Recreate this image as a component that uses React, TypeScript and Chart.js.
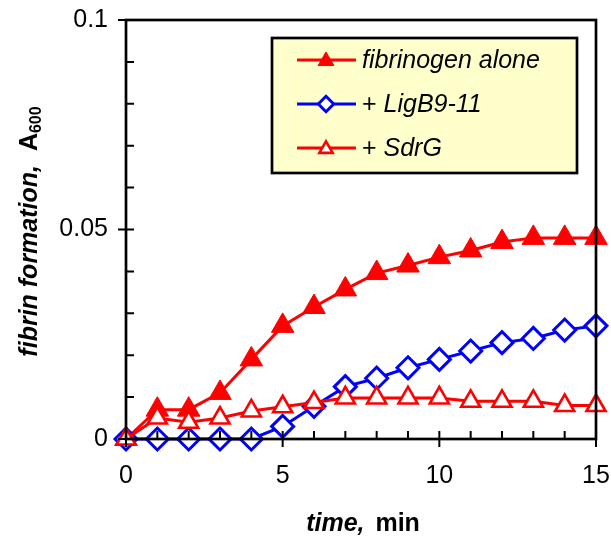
import React, { useEffect, useRef } from 'react';
import { Chart, registerables } from 'chart.js';
Chart.register(...registerables);

const times = [0, 1, 2, 3, 4, 5, 6, 7, 8, 9, 10, 11, 12, 13, 14, 15];
const fibrinogenAlone = [0, 0.007, 0.007, 0.011, 0.019, 0.027, 0.0315, 0.0357, 0.0396, 0.0414, 0.0434, 0.045, 0.047, 0.048, 0.048, 0.048];
const ligB911 = [0, 0, 0, 0, 0, 0.003, 0.0078, 0.0125, 0.0145, 0.017, 0.019, 0.021, 0.023, 0.024, 0.026, 0.027];
const sdrG = [0, 0.005, 0.004, 0.005, 0.0067, 0.0077, 0.0087, 0.0098, 0.0098, 0.0098, 0.0098, 0.009, 0.009, 0.009, 0.008, 0.008];
const seriesLabels = ['fibrinogen alone', '+ LigB9-11', '+ SdrG'];
const xMajorTicks = [0, 5, 10, 15];
const yMajorTicks = [0, 0.05, 0.1];
const yTickLabels = ['0', '0.05', '0.1'];
const yMinorTicks = [0.01, 0.02, 0.03, 0.04, 0.06, 0.07, 0.08, 0.09];
const xTitle = ['time,', ' min'];
const yTitle = ['fibrin formation,  ', 'A', '600'];

const FONT = '"Liberation Sans", Arial, sans-serif';
const RED = '#ff0000';
const BLUE = '#0000ff';

function drawMarker(ctx: CanvasRenderingContext2D, style: string, x: number, y: number, r: number, fill: string, stroke: string, lw: number) {
  ctx.save();
  ctx.beginPath();
  if (style === 'triangle') {
    let rad = 0;
    ctx.moveTo(x + Math.sin(rad) * r, y - Math.cos(rad) * r);
    rad += (2 * Math.PI) / 3;
    ctx.lineTo(x + Math.sin(rad) * r, y - Math.cos(rad) * r);
    rad += (2 * Math.PI) / 3;
    ctx.lineTo(x + Math.sin(rad) * r, y - Math.cos(rad) * r);
    ctx.closePath();
  } else {
    ctx.moveTo(x, y - r);
    ctx.lineTo(x + r, y);
    ctx.lineTo(x, y + r);
    ctx.lineTo(x - r, y);
    ctx.closePath();
  }
  ctx.fillStyle = fill;
  ctx.fill();
  ctx.lineWidth = lw;
  ctx.strokeStyle = stroke;
  ctx.stroke();
  ctx.restore();
}

const decorPlugin = {
  id: 'decor',
  afterDraw(chart: any) {
    const ctx: CanvasRenderingContext2D = chart.ctx;
    const { left, right, top, bottom } = chart.chartArea;
    const xs = chart.scales.x;
    const ys = chart.scales.y;
    ctx.save();
    // frame
    ctx.strokeStyle = '#000';
    ctx.lineWidth = 2.7;
    ctx.strokeRect(left, top, right - left, bottom - top);
    // ticks
    ctx.lineWidth = 2;
    ctx.beginPath();
    for (const t of times) {
      const px = xs.getPixelForValue(t);
      if (xMajorTicks.includes(t)) {
        ctx.moveTo(px, bottom + 8);
        ctx.lineTo(px, bottom - 8);
      } else {
        ctx.moveTo(px, bottom);
        ctx.lineTo(px, bottom - 8);
      }
    }
    for (const v of yMinorTicks) {
      const py = ys.getPixelForValue(v);
      ctx.moveTo(left, py);
      ctx.lineTo(left + 8, py);
    }
    for (const v of yMajorTicks) {
      const py = ys.getPixelForValue(v);
      ctx.moveTo(left - 8, py);
      ctx.lineTo(v === 0.1 ? left : left + 8, py);
    }
    ctx.stroke();

    // x title
    ctx.fillStyle = '#000';
    ctx.textBaseline = 'alphabetic';
    ctx.font = `italic bold 25px ${FONT}`;
    const w1 = ctx.measureText(xTitle[0]).width;
    ctx.font = `bold 25px ${FONT}`;
    const w2 = ctx.measureText(xTitle[1]).width;
    const cx = (left + right) / 2;
    const sx = cx - (w1 + w2) / 2;
    ctx.font = `italic bold 25px ${FONT}`;
    ctx.fillText(xTitle[0], sx, 531);
    ctx.font = `bold 25px ${FONT}`;
    ctx.fillText(xTitle[1], sx + w1 + 4, 531);

    // y title
    ctx.save();
    ctx.translate(37, (top + bottom) / 2 + 2);
    ctx.rotate(-Math.PI / 2);
    ctx.font = `italic bold 25px ${FONT}`;
    const a1 = ctx.measureText(yTitle[0]).width;
    ctx.font = `bold 25px ${FONT}`;
    const a2 = ctx.measureText(yTitle[1]).width;
    ctx.font = `bold 16px ${FONT}`;
    const a3 = ctx.measureText(yTitle[2]).width;
    const yx = -(a1 + a2 + a3) / 2;
    ctx.font = `italic bold 25px ${FONT}`;
    ctx.fillText(yTitle[0], yx, 0);
    ctx.font = `bold 25px ${FONT}`;
    ctx.fillText(yTitle[1], yx + a1, 0);
    ctx.font = `bold 16px ${FONT}`;
    ctx.fillText(yTitle[2], yx + a1 + a2, 4);
    ctx.restore();

    // legend
    const lx = 272, ly = 38, lw = 305, lh = 135;
    ctx.fillStyle = '#ffffcc';
    ctx.fillRect(lx, ly, lw, lh);
    ctx.lineWidth = 2.7;
    ctx.strokeStyle = '#000';
    ctx.strokeRect(lx, ly, lw, lh);
    chart.data.datasets.forEach((ds: any, i: number) => {
      const ry = 60 + i * 44;
      ctx.strokeStyle = ds.borderColor;
      ctx.lineWidth = ds.borderWidth;
      ctx.beginPath();
      ctx.moveTo(297, ry);
      ctx.lineTo(356, ry);
      ctx.stroke();
      drawMarker(ctx, ds.pointStyle, 326, ds.pointStyle === 'triangle' ? ry + 1 : ry, ds.pointRadius * 0.7, ds.pointBackgroundColor, ds.pointBorderColor, ds.pointBorderWidth);
      ctx.fillStyle = '#000';
      ctx.textBaseline = 'middle';
      let label: string = ds.label;
      let tx = 362;
      if (label.startsWith('+ ')) {
        ctx.font = `25px ${FONT}`;
        ctx.fillText('+ ', tx, ry + 1);
        tx += ctx.measureText('+ ').width;
        label = label.slice(2);
      }
      ctx.font = `italic 25px ${FONT}`;
      ctx.fillText(label, tx, ry + 1);
    });
    ctx.restore();
  },
};

export default function App() {
  const ref = useRef<HTMLCanvasElement>(null);
  useEffect(() => {
    if (!ref.current) return;
    const chart = new Chart(ref.current, {
      type: 'line',
      data: {
        labels: times,
        datasets: [
          {
            label: seriesLabels[0],
            data: times.map((t, i) => ({ x: t, y: fibrinogenAlone[i] })),
            borderColor: RED,
            borderWidth: 3,
            pointStyle: 'triangle',
            pointRadius: 13,
            pointBackgroundColor: RED,
            pointBorderColor: RED,
            pointBorderWidth: 1,
            clip: false,
            order: 2,
          } as any,
          {
            label: seriesLabels[1],
            data: times.map((t, i) => ({ x: t, y: ligB911[i] })),
            borderColor: BLUE,
            borderWidth: 3,
            pointStyle: 'rectRot',
            pointRadius: 11,
            pointBackgroundColor: '#ffffff',
            pointBorderColor: BLUE,
            pointBorderWidth: 3,
            clip: false,
            order: 1,
          },
          {
            label: seriesLabels[2],
            data: times.map((t, i) => ({ x: t, y: sdrG[i] })),
            borderColor: RED,
            borderWidth: 3,
            pointStyle: 'triangle',
            pointRadius: 11,
            pointBackgroundColor: '#ffffff',
            pointBorderColor: RED,
            pointBorderWidth: 2.6,
            clip: false,
            order: 0,
          },
        ],
      },
      options: {
        responsive: false,
        animation: false,
        layout: { padding: { top: 20, right: 15, left: 0, bottom: 0 } },
        plugins: { legend: { display: false }, tooltip: { enabled: false } },
        scales: {
          x: {
            type: 'linear',
            min: 0,
            max: 15,
            afterFit: (s: any) => { s.height = 97; s.paddingLeft = 0; s.paddingRight = 0; },
            afterBuildTicks: (s: any) => { s.ticks = xMajorTicks.map((v) => ({ value: v })); },
            grid: { display: false, drawTicks: false },
            border: { display: false },
            ticks: { color: '#000', font: { family: FONT, size: 25 }, padding: 22, maxRotation: 0 },
          },
          y: {
            type: 'linear',
            min: 0,
            max: 0.1,
            afterFit: (s: any) => { s.width = 126; s.paddingTop = 0; s.paddingBottom = 0; },
            afterBuildTicks: (s: any) => { s.ticks = yMajorTicks.map((v) => ({ value: v })); },
            grid: { display: false, drawTicks: false },
            border: { display: false },
            ticks: {
              color: '#000',
              font: { family: FONT, size: 25 },
              padding: 18,
              callback: (v: any) => yTickLabels[yMajorTicks.indexOf(Number(v))] ?? String(v),
            },
          },
        },
      },
      plugins: [decorPlugin],
    });
    return () => chart.destroy();
  }, []);
  return <canvas ref={ref} width={611} height={536} style={{ position: 'fixed', left: 0, top: 0 }} />;
}
